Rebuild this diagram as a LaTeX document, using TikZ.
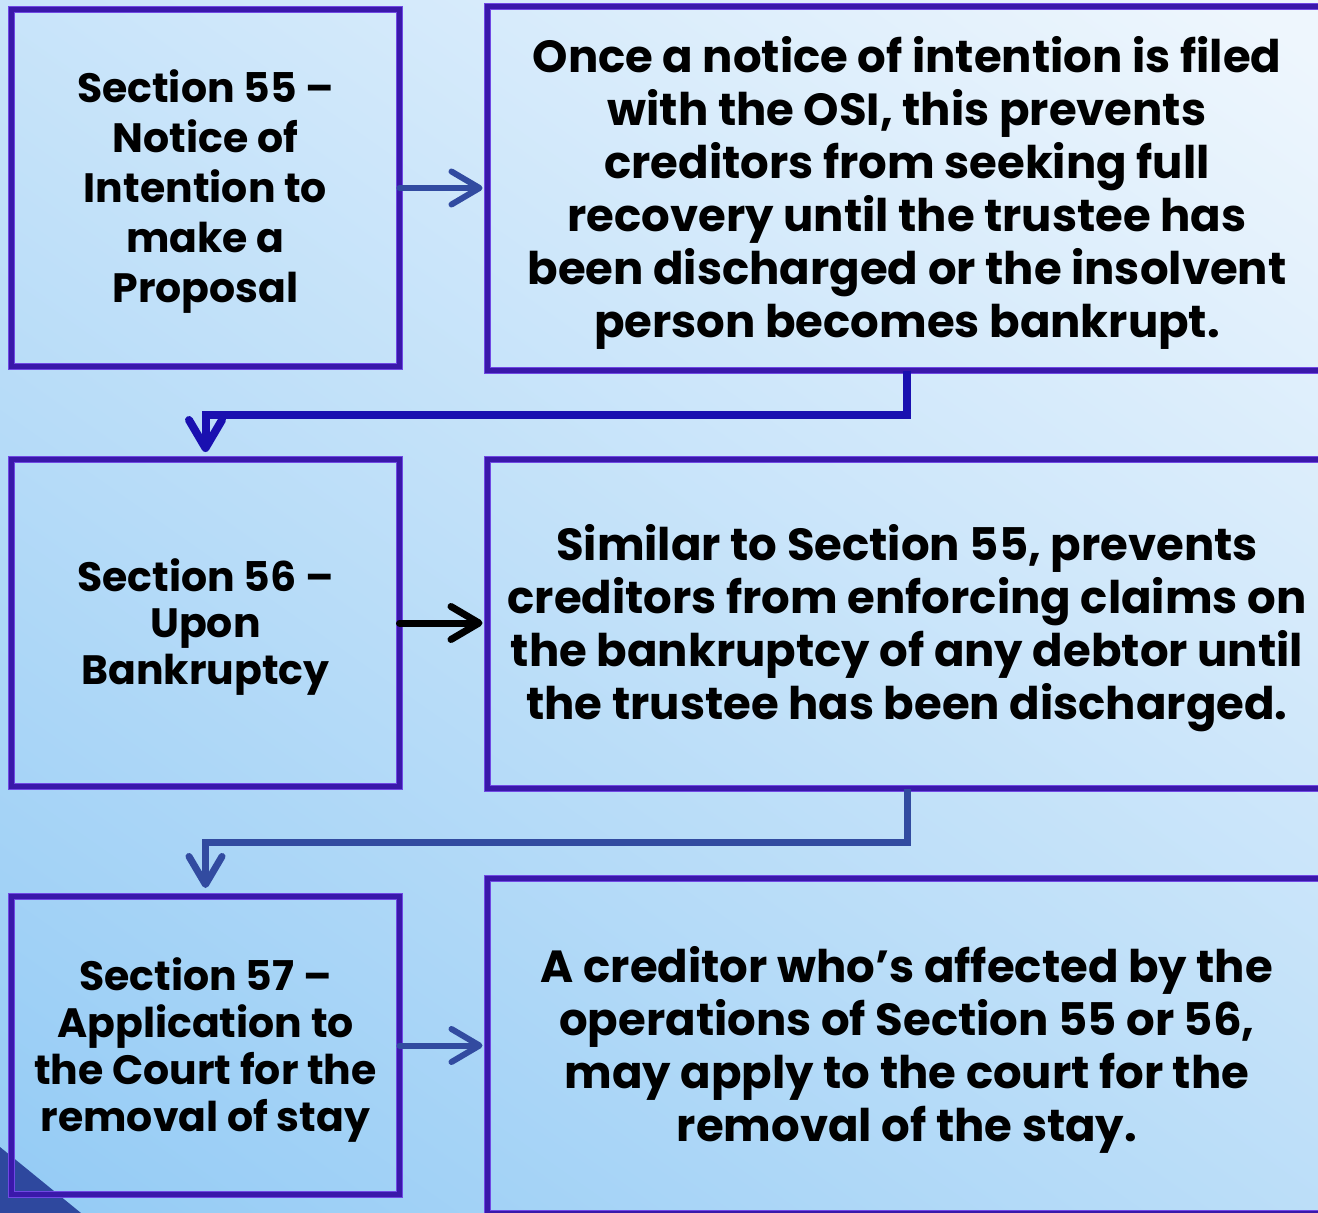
\documentclass[tikz,border=0pt]{standalone}
\usepackage{fontspec}
\setmainfont{Poppins}
\usetikzlibrary{arrows.meta,calc}

\definecolor{bgLight}{RGB}{238,246,253}
\definecolor{bgDeep}{RGB}{150,204,245}
\definecolor{frameDark}{RGB}{58,24,170}
\definecolor{frameLight}{RGB}{112,72,228}
\definecolor{linkBlue}{RGB}{50,75,160}
\definecolor{linkNavy}{RGB}{26,16,176}
\definecolor{cornerBlue}{RGB}{46,72,158}

\tikzset{
  frame/.style={draw=frameLight, line width=1.5pt, double=frameDark,
    double distance=4.5pt, outer sep=0pt, inner sep=0pt},
  lefttext/.style={align=center, yshift=-4pt,
    font=\bfseries\fontsize{41}{#1}\selectfont},
  righttext/.style={align=center, yshift=-4pt,
    font=\bfseries\fontsize{45}{53}\selectfont},
  tip/.style={-{Straight Barb[length=28pt,width=33pt,round]}},
  link/.style={tip, line width=6pt, line cap=round, draw=linkBlue},
  linkblack/.style={tip, line width=7pt, line cap=round, draw=black},
  elbow/.style={tip, line width=#1, line join=miter},
}

\begin{document}
\begin{tikzpicture}[x=1pt,y=-1pt]
\useasboundingbox (0,0) rectangle (1318,1213);
\clip (0,0) rectangle (1318,1213);

% backdrop
\shade[top color=bgLight, bottom color=bgDeep, shading angle=-35]
  (-200,-200) rectangle (1518,1413);
\fill[cornerBlue] (0,1147) -- (81,1213) -- (0,1213) -- cycle;

% boxes
\node[frame, minimum width=388pt, minimum height=357pt,
  label={[lefttext=50]center:Section 55 –\\Notice of\\Intention to\\make a\\Proposal}]
  (b1) at (205.5,188) {};
\node[frame, minimum width=839pt, minimum height=364pt,
  label={[righttext]center:Once a notice of intention is filed\\with the OSI, this prevents\\creditors from seeking full\\recovery until the trustee has\\been discharged or the insolvent\\person becomes bankrupt.}]
  (b2) at (907,188.5) {};
\node[frame, minimum width=388pt, minimum height=327pt,
  label={[lefttext=46.5]center:Section 56 –\\Upon\\Bankruptcy}]
  (b3) at (205.5,623) {};
\node[frame, minimum width=839pt, minimum height=329pt,
  label={[righttext]center:Similar to Section 55, prevents\\creditors from enforcing claims on\\the bankruptcy of any debtor until\\the trustee has been discharged.}]
  (b4) at (907,624) {};
\node[frame, minimum width=388pt, minimum height=298pt,
  label={[lefttext=47]center:Section 57 –\\Application to\\the Court for the\\removal of stay}]
  (b5) at (205.5,1045.5) {};
\node[frame, minimum width=839pt, minimum height=335pt,
  label={[righttext]center:A creditor who’s affected by the\\operations of Section 55 or 56,\\may apply to the court for the\\removal of the stay.}]
  (b6) at (907,1046) {};

% connectors
\draw[link, shorten >=5pt] (b1.east) -- (b1.east -| b2.west);
\draw[linkblack, shorten >=5pt] (b3.east) -- (b3.east -| b4.west);
\draw[link, shorten >=5pt] (b5.east) -- (b5.east -| b6.west);

\draw[elbow=8pt, draw=linkNavy, shorten >=7.5pt]
  (b2.south) |- ([yshift=44.5pt]b3.north) -- (b3.north);
\draw[elbow=7pt, draw=linkBlue, shorten >=8.5pt]
  (b4.south) |- ([yshift=54.5pt]b5.north) -- (b5.north);
\end{tikzpicture}
\end{document}
